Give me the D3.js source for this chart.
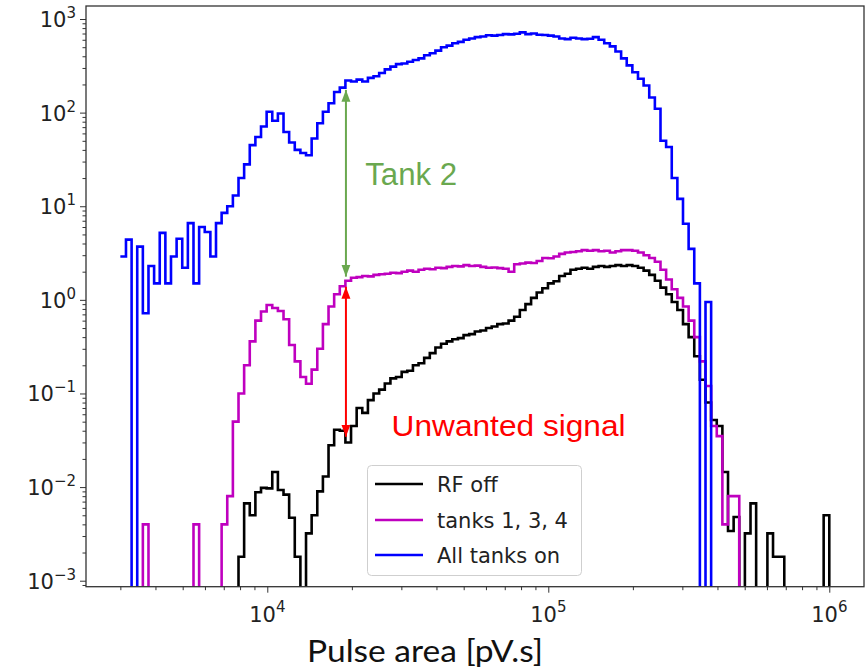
<!DOCTYPE html>
<html><head><meta charset="utf-8">
<script src="https://cdn.jsdelivr.net/npm/d3@7"></script>
<style>body{margin:0;background:#fff}svg{display:block}</style>
</head><body>
<svg id="c" width="866" height="667"></svg>
<script>
// ---------- data ----------
const binLow = 3000, binHigh = 1e6;   // histogram range (log bins)
const seriesNames = ["RF off", "tanks 1, 3, 4", "All tanks on"];
const rfOff = [
  0,0,0,0,0,0,0,0,0,0,
  0,0,0,0,0,0,0,0,0,0,
  0,0.0018,0.0067,0.005,0.0088,0.0098,0.0097,0.0145,0.0093,0.0083,
  0.0047,0.0018,0,0.0032,0.005,0.009,0.013,0.028,0.041,0.04,
  0.03,0.045,0.07,0.062,0.085,0.1,0.11,0.128,0.145,0.15,
  0.17,0.175,0.2,0.21,0.24,0.27,0.31,0.34,0.36,0.38,
  0.39,0.42,0.43,0.46,0.47,0.5,0.52,0.55,0.56,0.6,
  0.66,0.78,0.9,1.05,1.2,1.33,1.5,1.58,1.8,1.9,
  2.1,2.15,2.2,2.15,2.25,2.3,2.25,2.3,2.35,2.3,
  2.35,2.3,2.2,2.05,1.85,1.6,1.35,1.15,0.95,0.78,
  0.55,0.4,0.25,0.14,0.08,0.052,0.045,0.0145,0.0034,0.0048,
  0,0.0032,0.0067,0,0,0.0032,0.0018,0.0018,0,0,
  0,0,0,0,0,0.005
];
const tanks134 = [
  0,0,0,0,0.004,0,0,0,0,0,
  0,0,0,0.004,0,0,0,0,0.004,0.008,
  0.05,0.1,0.2,0.36,0.6,0.75,0.88,0.82,0.76,0.62,
  0.33,0.22,0.15,0.127,0.18,0.3,0.55,0.85,1.15,1.4,
  1.6,1.72,1.75,1.8,1.78,1.85,1.88,1.9,1.95,1.93,
  2.0,2.05,2.0,2.1,2.15,2.12,2.2,2.18,2.25,2.3,
  2.28,2.35,2.3,2.32,2.25,2.2,2.22,2.18,2.15,2.0,
  2.4,2.45,2.5,2.48,2.6,2.8,2.78,2.9,3.1,3.2,
  3.25,3.3,3.4,3.35,3.4,3.3,3.35,3.2,3.3,3.4,
  3.4,3.35,3.2,3.0,2.8,2.55,2.1,1.65,1.3,1.05,
  0.85,0.6,0.4,0.22,0.12,0.045,0.035,0.004,0.008,0.008,
  0,0,0,0,0,0,0,0,0,0,
  0,0,0,0,0,0
];
const allTanksOn = [
  2.9,4.4,0,3.7,0.72,2.3,1.5,5.2,1.5,2.9,
  4.5,2.2,6.6,1.5,6,5.3,2.9,6.6,8.5,10,
  13,20,28,45,55,71,102,82,98,62,
  48,40,37,35,53,77,102,126,166,185,
  220,215,225,215,235,245,265,290,310,330,
  335,350,365,380,410,430,460,500,520,550,
  570,600,620,640,650,670,665,675,690,685,
  695,720,690,700,680,675,665,650,620,610,
  630,620,610,615,640,600,550,510,450,380,
  320,270,230,195,145,110,50,43,20,12,
  6.5,3.5,1.5,0,0.95,0,0,0,0,0,
  0,0,0,0,0,0,0,0,0,0,
  0,0,0,0,0,0
];
const seriesColors = ["#000000", "#bf00bf", "#0000ff"];
const xTickExps = [4, 5, 6];
const yTickExps = [-3, -2, -1, 0, 1, 2, 3];
const minorMult = [2, 3, 4, 5, 6, 7, 8, 9];
const xLabel = "Pulse area [pV.s]";
const xDomain = [2264, 1.329e6];
const yDomain = [8.63e-4, 1377];
// annotations (data coordinates)
const tankArrow = {x: 19050, y1: 175, y2: 1.77, text: "Tank 2", tx: 22300, ty: 16.9};
const unwantedArrow = {x: 19050, y1: 1.38, y2: 0.0345, text: "Unwanted signal", tx: 27700, ty: 0.0354};

// ---------- layout ----------
const M = {l: 86, t: 6};
const PW = 778, PH = 580.7;
const svg = d3.select("#c");
const g = svg.append("g").attr("transform", `translate(${M.l},${M.t})`);
const x = d3.scaleLog().domain(xDomain).range([0, PW]);
const y = d3.scaleLog().domain(yDomain).range([PH, 0]);

svg.append("defs").append("clipPath").attr("id", "clip")
  .append("rect").attr("x", 0).attr("y", 0).attr("width", PW).attr("height", PH);

const nBins = rfOff.length;
const edges = d3.range(nBins + 1).map(i => binLow * Math.pow(binHigh / binLow, i / nBins));

function stepPath(vals) {
  const p = d3.path();
  const yv = v => v > 0 ? y(v) : PH + 8;
  p.moveTo(x(edges[0]), yv(vals[0]));
  for (let i = 0; i < vals.length; i++) {
    if (i > 0) p.lineTo(x(edges[i]), yv(vals[i]));
    p.lineTo(x(edges[i + 1]), yv(vals[i]));
  }
  p.lineTo(x(edges[vals.length]), PH + 8);
  return p.toString();
}

const plot = g.append("g").attr("clip-path", "url(#clip)");
[rfOff, tanks134, allTanksOn].forEach((s, i) => {
  plot.append("path").attr("d", stepPath(s)).attr("fill", "none")
    .attr("stroke", seriesColors[i]).attr("stroke-width", 2.6)
    .attr("stroke-linejoin", "miter");
});

// ---------- axes ----------
const axisColor = "#333";
const xMinor = [], yMinor = [];
for (let e = 3; e <= 6; e++) minorMult.forEach(m => { const v = m * Math.pow(10, e); if (v > xDomain[0] && v < xDomain[1]) xMinor.push(v); });
for (let e = -4; e <= 3; e++) minorMult.forEach(m => { const v = m * Math.pow(10, e); if (v > yDomain[0] && v < yDomain[1]) yMinor.push(v); });

function styleAxis(sel) {
  sel.select(".domain").remove();
  sel.selectAll("line").attr("stroke", axisColor).attr("stroke-width", 1);
  sel.selectAll("text").remove();
}
g.append("g").attr("transform", `translate(0,${PH})`)
  .call(d3.axisBottom(x).tickValues(xTickExps.map(e => Math.pow(10, e))).tickSize(6).tickFormat("")).call(styleAxis);
g.append("g").attr("transform", `translate(0,${PH})`)
  .call(d3.axisBottom(x).tickValues(xMinor).tickSize(3.5).tickFormat("")).call(styleAxis);
g.append("g").call(d3.axisLeft(y).tickValues(yTickExps.map(e => Math.pow(10, e))).tickSize(6).tickFormat("")).call(styleAxis);
g.append("g").call(d3.axisLeft(y).tickValues(yMinor).tickSize(3.5).tickFormat("")).call(styleAxis);

g.append("rect").attr("x", 0).attr("y", 0).attr("width", PW).attr("height", PH)
  .attr("fill", "none").attr("stroke", axisColor).attr("stroke-width", 1.3);

const tickFont = "DejaVu Sans";
xTickExps.forEach(e => {
  const t = g.append("text").attr("x", x(Math.pow(10, e))).attr("y", PH + 35)
    .attr("text-anchor", "middle").attr("font-family", tickFont).attr("font-size", 21).attr("fill", "#222");
  t.append("tspan").text("10");
  t.append("tspan").attr("dy", -10).attr("font-size", 15).text(String(e).replace("-", "\u2212"));
});
yTickExps.forEach(e => {
  const t = g.append("text").attr("x", -10).attr("y", y(Math.pow(10, e)) + 8)
    .attr("text-anchor", "end").attr("font-family", tickFont).attr("font-size", 21).attr("fill", "#222");
  t.append("tspan").text("10");
  t.append("tspan").attr("dy", -9).attr("font-size", 15).text(String(e).replace("-", "\u2212"));
});

svg.append("text").attr("x", 425).attr("y", 662)
  .attr("text-anchor", "middle").attr("font-family", "Lato").attr("font-size", 30).attr("fill", "#111")
  .attr("textLength", 236).attr("lengthAdjust", "spacingAndGlyphs")
  .text(xLabel);

// ---------- annotations ----------
const defs = svg.select("defs");
[["ag", "#6aa84f"], ["ar", "#ff0000"]].forEach(([id, c]) => {
  defs.append("marker").attr("id", id).attr("viewBox", "0 -5 12 10").attr("refX", 12).attr("refY", 0)
    .attr("markerWidth", 12).attr("markerHeight", 10).attr("markerUnits", "userSpaceOnUse")
    .attr("orient", "auto-start-reverse")
    .append("path").attr("d", "M0,-4.5L12,0L0,4.5Z").attr("fill", c);
});
function arrow(a, color, mid, size, width) {
  g.append("line").attr("x1", x(a.x)).attr("x2", x(a.x)).attr("y1", y(a.y1)).attr("y2", y(a.y2))
    .attr("stroke", color).attr("stroke-width", 2)
    .attr("marker-start", `url(#${mid})`).attr("marker-end", `url(#${mid})`);
  g.append("text").attr("x", x(a.tx)).attr("y", y(a.ty)).attr("font-family", "Liberation Sans, Arial")
    .attr("font-size", size).attr("fill", color)
    .attr("textLength", width).attr("lengthAdjust", "spacingAndGlyphs").text(a.text);
}
arrow(tankArrow, "#6aa84f", "ag", 31, 92);
arrow(unwantedArrow, "#ff0000", "ar", 29, 234);

// ---------- legend ----------
const lg = svg.append("g");
lg.append("rect").attr("x", 367.5).attr("y", 465.5).attr("width", 214).attr("height", 110).attr("rx", 4)
  .attr("fill", "#fff").attr("fill-opacity", 0.8).attr("stroke", "#cfcfcf").attr("stroke-width", 1);
const legY = [484, 520, 555];
seriesNames.forEach((n, i) => {
  lg.append("line").attr("x1", 375).attr("x2", 423).attr("y1", legY[i]).attr("y2", legY[i])
    .attr("stroke", seriesColors[i]).attr("stroke-width", 2.6);
  lg.append("text").attr("x", 437).attr("y", legY[i] + 7.6).attr("font-family", tickFont)
    .attr("font-size", 21).attr("fill", "#222").text(n);
});
</script>
</body></html>
